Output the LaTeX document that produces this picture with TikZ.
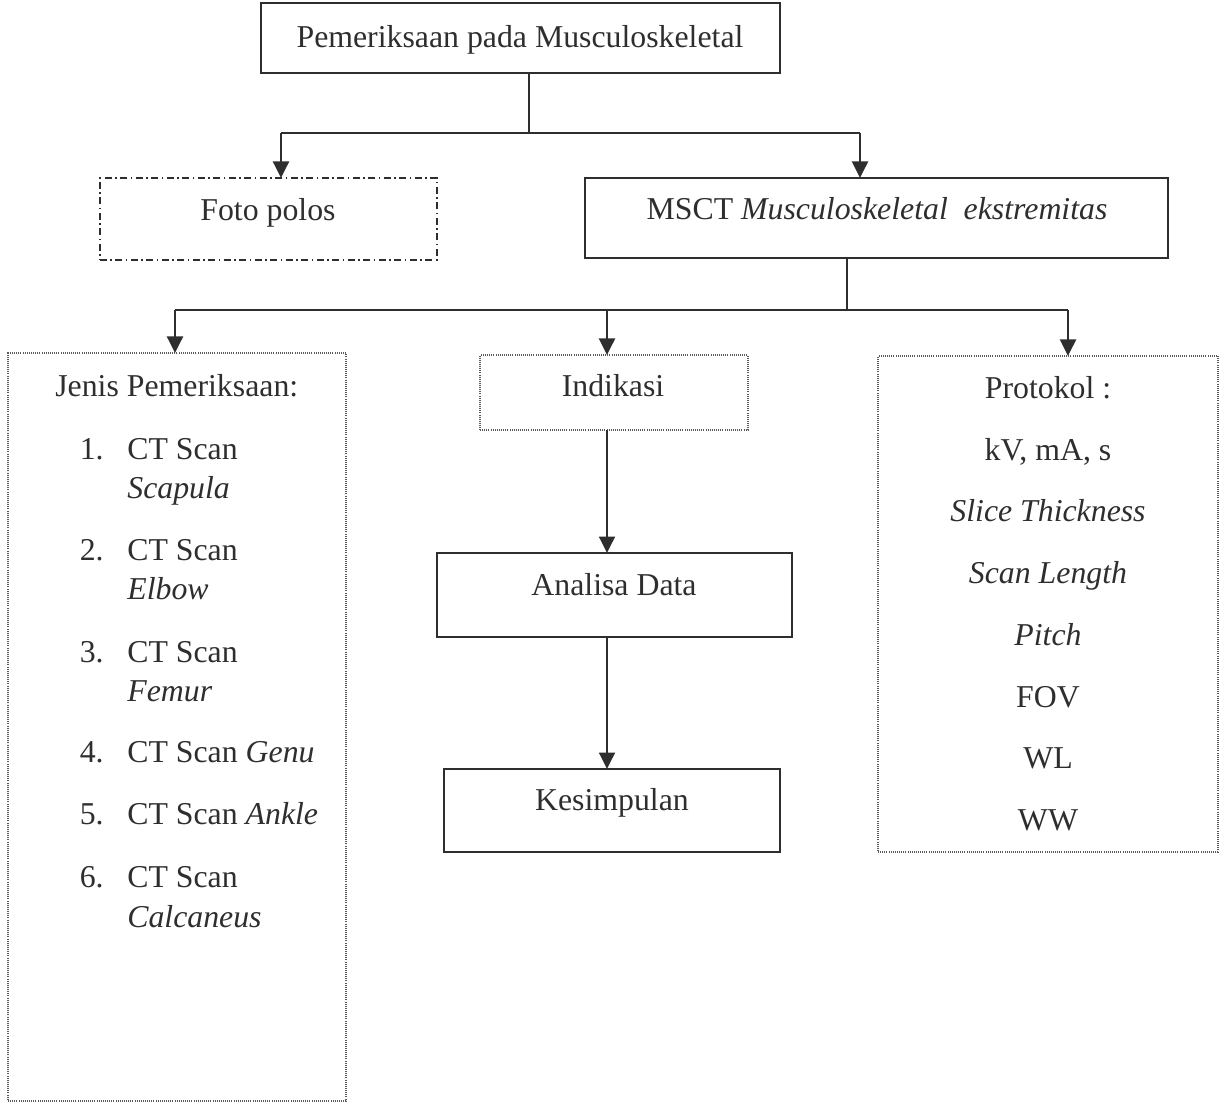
\documentclass[tikz,border=0pt]{standalone}
\usepackage{fontspec}
\setmainfont{Liberation Serif}
\usetikzlibrary{arrows.meta}
\definecolor{ink}{HTML}{2E2E2E}
\definecolor{dotink}{HTML}{5A5A5A}
\begin{document}
\begin{tikzpicture}[x=0.02cm,y=-0.02cm,
  txt/.style={font=\fontsize{18.1pt}{22pt}\selectfont, text=ink, inner sep=0pt, anchor=base, yshift=-0.06cm},
  boxbase/.style={anchor=north west, inner sep=0pt, outer sep=0pt},
  solidbox/.style={boxbase, draw=ink, line width=1.1pt},
  dotbox/.style={boxbase, draw=dotink, line width=0.9pt, dash pattern=on 0.45pt off 0.75pt},
  dashdotbox/.style={boxbase, draw=ink, line width=1.1pt, dash pattern=on 0.14cm off 0.07cm on 0.03cm off 0.07cm},
  conn/.style={draw=ink, line width=1.1pt},
  arr/.style={conn, -{Triangle[length=0.33cm, width=0.32cm]}}
]
\useasboundingbox (0,0) rectangle (1225,1104);

% boxes
\node[solidbox, minimum width=10.38cm, minimum height=1.40cm] (top) at (261,3) {};
\node[dashdotbox, minimum width=6.74cm, minimum height=1.64cm] (foto) at (100,178) {};
\node[solidbox, minimum width=11.66cm, minimum height=1.60cm] (msct) at (585,178) {};
\node[dotbox, minimum width=6.76cm, minimum height=14.96cm] (jenis) at (8,353) {};
\node[dotbox, minimum width=5.36cm, minimum height=1.50cm] (indikasi) at (480,355) {};
\node[dotbox, minimum width=6.80cm, minimum height=9.92cm] (protokol) at (878,356) {};
\node[solidbox, minimum width=7.10cm, minimum height=1.68cm] (analisa) at (437,553) {};
\node[solidbox, minimum width=6.72cm, minimum height=1.66cm] (kesimpulan) at (444,769) {};

% box texts
\node[txt] (ttop) at (520,45) {Pemeriksaan pada Musculoskeletal};
\node[txt] (tfoto) at (268,218) {Foto polos};
\node[txt] (tmsct) at (877,217) {MSCT \textit{Musculoskeletal\ \ ekstremitas}};
\node[txt] (tind) at (613,394) {Indikasi};
\node[txt] (tana) at (614,593) {Analisa Data};
\node[txt] (tkes) at (612,808) {Kesimpulan};

% left list
\node[txt, anchor=base west] (jhead) at (55,394) {Jenis Pemeriksaan:};
\node[txt, anchor=base east] (n1) at (104,457) {1.};
\node[txt, anchor=base west] (i1a) at (127,457) {CT Scan};
\node[txt, anchor=base west] (i1b) at (127,496) {\textit{Scapula}};
\node[txt, anchor=base east] (n2) at (104,558) {2.};
\node[txt, anchor=base west] (i2a) at (127,558) {CT Scan};
\node[txt, anchor=base west] (i2b) at (127,597) {\textit{Elbow}};
\node[txt, anchor=base east] (n3) at (104,660) {3.};
\node[txt, anchor=base west] (i3a) at (127,660) {CT Scan};
\node[txt, anchor=base west] (i3b) at (127,699) {\textit{Femur}};
\node[txt, anchor=base east] (n4) at (104,760) {4.};
\node[txt, anchor=base west] (i4) at (127,760) {CT Scan \textit{Genu}};
\node[txt, anchor=base east] (n5) at (104,822) {5.};
\node[txt, anchor=base west] (i5) at (127,822) {CT Scan \textit{Ankle}};
\node[txt, anchor=base east] (n6) at (104,885) {6.};
\node[txt, anchor=base west] (i6a) at (127,885) {CT Scan};
\node[txt, anchor=base west] (i6b) at (127,925) {\textit{Calcaneus}};

% protokol list
\node[txt] (p1) at (1048,396) {Protokol :};
\node[txt] (p2) at (1048,458) {kV, mA, s};
\node[txt] (p3) at (1048,519) {\textit{Slice Thickness}};
\node[txt] (p4) at (1048,581) {\textit{Scan Length}};
\node[txt] (p5) at (1048,643) {\textit{Pitch}};
\node[txt] (p6) at (1048,705) {FOV};
\node[txt] (p7) at (1048,766) {WL};
\node[txt] (p8) at (1048,828) {WW};

% connectors
\coordinate (j1) at (529,133);
\coordinate (b1l) at (281,133);
\coordinate (b1r) at (860,133);
\draw[conn] (top.south -| j1) -- (j1);
\draw[conn] (b1l) -- (b1r);
\draw[arr] (b1l) -- (b1l |- foto.north);
\draw[arr] (b1r) -- (b1r |- msct.north);

\coordinate (j2) at (847,310);
\coordinate (b2l) at (175,310);
\coordinate (b2m) at (607,310);
\coordinate (b2r) at (1068,310);
\draw[conn] (msct.south -| j2) -- (j2);
\draw[conn] (b2l) -- (b2r);
\draw[arr] (b2l) -- (b2l |- jenis.north);
\draw[arr] (b2m) -- (b2m |- indikasi.north);
\draw[arr] (b2r) -- (b2r |- protokol.north);

\draw[arr] (indikasi.south -| b2m) -- (analisa.north -| b2m);
\draw[arr] (analisa.south -| b2m) -- (kesimpulan.north -| b2m);
\end{tikzpicture}
\end{document}
